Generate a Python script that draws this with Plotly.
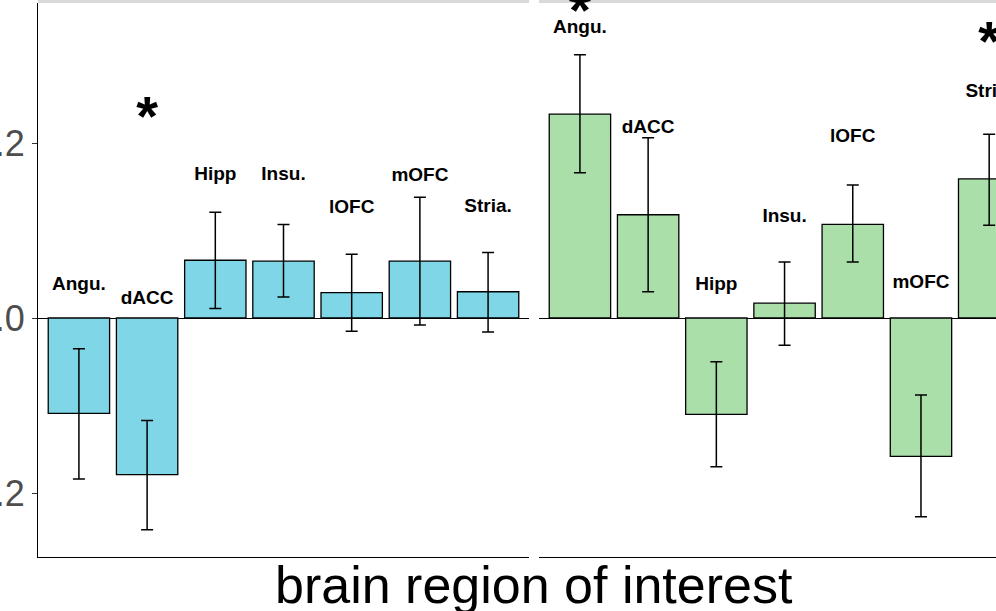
import plotly.graph_objects as go

# ---------------- data ----------------
regions = ["Angu.", "dACC", "Hipp", "Insu.", "lOFC", "mOFC", "Stria."]

left_mean  = [-0.109, -0.179, 0.066, 0.065, 0.029, 0.065, 0.030]
left_upper = [-0.035, -0.117, 0.121, 0.107, 0.073, 0.138, 0.075]
left_lower = [-0.184, -0.242, 0.011, 0.024, -0.015, -0.008, -0.016]
left_label_y = [0.038, 0.021, 0.163, 0.163, 0.125, 0.162, 0.127]
left_star = ["", "*", "", "", "", "", ""]
left_star_y = [None, 0.225, None, None, None, None, None]

right_mean  = [0.233, 0.118, -0.110, 0.017, 0.107, -0.158, 0.159]
right_upper = [0.301, 0.206, -0.050, 0.064, 0.152, -0.088, 0.210]
right_lower = [0.166, 0.030, -0.170, -0.031, 0.064, -0.227, 0.106]
right_label_y = [0.331, 0.217, 0.037, 0.115, 0.207, 0.040, 0.258]
right_star = ["*", "", "", "", "", "", "*"]
right_star_y = [0.346, None, None, None, None, None, 0.311]

y_ticks = [-0.2, 0.0, 0.2]
y_ticktext = ["-0.2", "0.0", "0.2"]
x_title = "brain region of interest"

# ---------------- style ----------------
LEFT_FILL = "#7ED6E6"
RIGHT_FILL = "#AADFAA"
FONT = "Liberation Sans"

W, H = 996, 611
ML, MR, MT, MB = 38, 0, 3, 54
pw = W - ML - MR
ph = H - MT - MB
left_dom = [0, (529 - ML) / pw]
right_dom = [(539 - ML) / pw, 1]
y_range = [-0.2731, 0.36]


def errs(mean, up, lo):
    return ([u - m for u, m in zip(up, mean)], [m - l for m, l in zip(mean, lo)])


fig = go.Figure()

for mean, up, lo, fill, xa, ya in [
    (left_mean, left_upper, left_lower, LEFT_FILL, "x", "y"),
    (right_mean, right_upper, right_lower, RIGHT_FILL, "x2", "y2"),
]:
    ep, em = errs(mean, up, lo)
    fig.add_trace(go.Bar(
        x=regions, y=mean, width=0.9,
        marker=dict(color=fill, line=dict(color="black", width=1.3)),
        error_y=dict(type="data", array=ep, arrayminus=em, symmetric=False,
                     color="black", thickness=1.5, width=6),
        xaxis=xa, yaxis=ya, showlegend=False, hoverinfo="skip",
    ))

for label_y, stars, star_y, xa, ya in [
    (left_label_y, left_star, left_star_y, "x", "y"),
    (right_label_y, right_star, right_star_y, "x2", "y2"),
]:
    fig.add_trace(go.Scatter(
        x=regions, y=label_y, text=regions, mode="text",
        textposition="middle center",
        textfont=dict(family=FONT, size=19, color="black", weight="bold"),
        xaxis=xa, yaxis=ya, showlegend=False, hoverinfo="skip", cliponaxis=False,
    ))
    sx = [r for r, s in zip(regions, stars) if s]
    sy = [v for v, s in zip(star_y, stars) if s]
    st = [s for s in stars if s]
    fig.add_trace(go.Scatter(
        x=sx, y=sy, text=st, mode="text", textposition="middle center",
        textfont=dict(family=FONT, size=56, color="black", weight="bold"),
        xaxis=xa, yaxis=ya, showlegend=False, hoverinfo="skip", cliponaxis=False,
    ))

common_x = dict(type="category", showline=True, linecolor="black", linewidth=1.1,
                ticks="", showticklabels=False, showgrid=False, zeroline=False,
                fixedrange=True, automargin=False)

fig.update_layout(
    width=W, height=H,
    margin=dict(l=ML, r=MR, t=MT, b=MB, pad=0, autoexpand=False),
    paper_bgcolor="white", plot_bgcolor="white",
    font=dict(family=FONT),
    bargap=0.1,
    xaxis=dict(domain=left_dom, range=[-0.6, 6.6], anchor="y", **common_x),
    xaxis2=dict(domain=right_dom, range=[-0.6, 6.1], anchor="y2", **common_x),
    yaxis=dict(range=y_range, anchor="x", showline=True, linecolor="black", linewidth=1.1,
               ticks="outside", ticklen=5, tickcolor="#333333", tickwidth=1.1,
               tickvals=y_ticks, ticktext=y_ticktext, automargin=False,
               tickfont=dict(family=FONT, size=36, color="#4D4D4D"),
               showgrid=False, zeroline=True, zerolinecolor="black", zerolinewidth=1.1),
    yaxis2=dict(range=y_range, anchor="x2", showline=False, ticks="", showticklabels=False,
                automargin=False,
                showgrid=False, zeroline=True, zerolinecolor="black", zerolinewidth=1.1),
    shapes=[
        dict(type="rect", xref="paper", yref="paper", x0=left_dom[0], x1=left_dom[1],
             y0=1, y1=1 + 3 / ph, fillcolor="#D9D9D9", line=dict(width=0), layer="below"),
        dict(type="rect", xref="paper", yref="paper", x0=right_dom[0], x1=right_dom[1],
             y0=1, y1=1 + 3 / ph, fillcolor="#D9D9D9", line=dict(width=0), layer="below"),
    ],
    annotations=[
        dict(text=x_title, xref="paper", yref="paper", x=(534 - ML) / pw, y=0,
             xanchor="center", yanchor="top", yshift=3, showarrow=False,
             font=dict(family=FONT, size=52, color="black")),
    ],
)

fig.write_html("out.html")
